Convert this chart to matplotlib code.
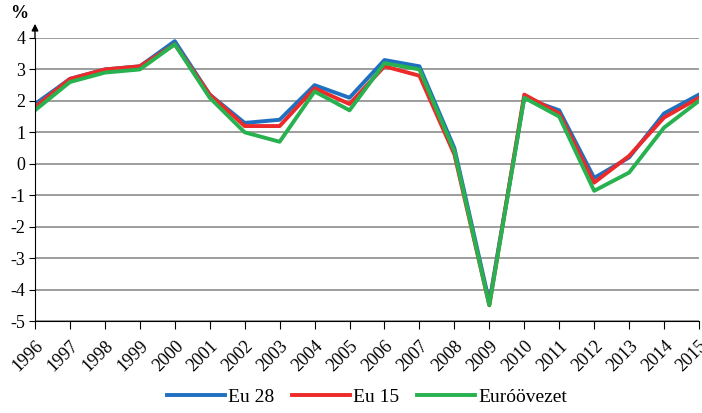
import numpy as np
import matplotlib.pyplot as plt
import matplotlib

matplotlib.rc('font', family='Liberation Serif', size=13)
matplotlib.rcParams['axes.unicode_minus'] = False

years = list(range(1996, 2016))
eu28 = [1.9, 2.7, 3.0, 3.1, 3.9, 2.2, 1.3, 1.4, 2.5, 2.1, 3.3, 3.1, 0.5, -4.4, 2.1, 1.7, -0.45, 0.2, 1.6, 2.2]
eu15 = [1.8, 2.7, 3.0, 3.1, 3.8, 2.2, 1.2, 1.2, 2.4, 1.9, 3.1, 2.8, 0.3, -4.5, 2.2, 1.6, -0.6, 0.25, 1.47, 2.1]
euro = [1.7, 2.6, 2.9, 3.0, 3.8, 2.1, 1.0, 0.7, 2.3, 1.7, 3.2, 3.0, 0.4, -4.5, 2.1, 1.5, -0.86, -0.28, 1.15, 2.0]

fig = plt.figure(figsize=(7.02, 4.13), dpi=100)
ax = fig.add_axes([35/702, 1-321/413, 664/702, 283/413])

ax.plot(years, eu28, color='#1f70c1', lw=2.8, label='Eu 28')
ax.plot(years, eu15, color='#ec2a2a', lw=2.8, label='Eu 15')
ax.plot(years, euro, color='#27b14f', lw=2.8, label='Euróövezet')

ax.set_xlim(1996, 2015)
ax.set_ylim(-5, 4)
ax.set_yticks(range(-5, 5))
ax.set_xticks(years)
ax.set_xticklabels([str(y) for y in years], rotation=45, ha='right', va='top',
                   rotation_mode='anchor')
ax.grid(axis='y', color='#8c8c8c', lw=1.2)
ax.set_axisbelow(True)
for s in ['top', 'right']:
    ax.spines[s].set_visible(False)
ax.spines['left'].set_color('black')
ax.spines['bottom'].set_color('black')
ax.tick_params(axis='x', length=6, direction='out', pad=6)
ax.tick_params(axis='y', length=4, direction='out', pad=3)

# arrow on the y axis
ax.annotate('', xy=(0, 1.06), xycoords='axes fraction', xytext=(0, 0.99),
            arrowprops=dict(arrowstyle='-|>', color='black', lw=1, mutation_scale=10))
fig.text(10/702, 1-14/413, '%', fontsize=13, fontweight='bold', va='center')

ax.legend(loc='upper center', bbox_to_anchor=(0.5, -0.175), ncol=3, frameon=False,
          handlelength=3.0, handletextpad=0.15, columnspacing=0.9, fontsize=14)

fig.savefig('out.png', dpi=100)
